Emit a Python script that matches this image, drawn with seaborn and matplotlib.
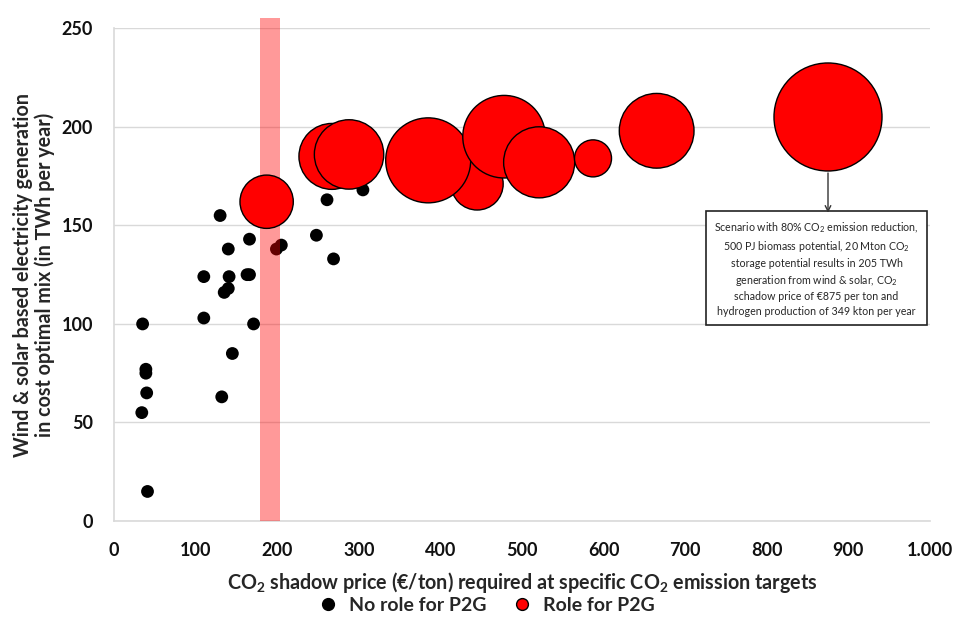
import numpy as np
import pandas as pd
import matplotlib
matplotlib.use("Agg")
import matplotlib.pyplot as plt
import seaborn as sns
from matplotlib.lines import Line2D

# scenarios without a role for P2G (CO2 price in EUR/ton, wind & solar in TWh)
no_p2g_price = [35, 39, 39, 40, 34, 41, 130, 140, 110, 141, 140, 135, 166, 163, 166,
                110, 171, 145, 132, 199, 205, 248, 269, 261, 305]
no_p2g_twh = [100, 77, 75, 65, 55, 15, 155, 138, 124, 124, 118, 116, 143, 125, 125,
              103, 100, 85, 63, 138, 140, 145, 133, 163, 168]

# scenarios with a role for P2G (bubble area = hydrogen production, kton per year)
p2g_price = [187, 267, 288, 445, 385, 478, 521, 587, 665, 875]
p2g_twh = [162, 185, 186, 171, 183, 195, 182, 184, 198, 205]
p2g_h2 = [85, 130, 144, 81, 216, 204, 151, 41, 167, 349]

x_ticks = [0, 100, 200, 300, 400, 500, 600, 700, 800, 900, 1000]
x_ticklabels = ["0", "100", "200", "300", "400", "500", "600", "700", "800", "900", "1.000"]
y_ticks = [0, 50, 100, 150, 200, 250]

band_lo, band_hi = 179, 203

df_no = pd.DataFrame({"price": no_p2g_price, "twh": no_p2g_twh})
df_yes = pd.DataFrame({"price": p2g_price, "twh": p2g_twh, "h2": p2g_h2})

sns.set_style("white")
plt.rcParams["font.family"] = ["Lato", "DejaVu Sans"]
plt.rcParams["mathtext.fontset"] = "custom"
plt.rcParams["mathtext.rm"] = "Lato"
plt.rcParams["mathtext.bf"] = "Lato:bold"

fig, ax = plt.subplots(figsize=(9.56, 6.33), dpi=100)
fig.subplots_adjust(left=0.1193, right=0.9728, bottom=0.1769, top=0.9553)

grey = "#d9d9d9"

sns.scatterplot(data=df_no, x="price", y="twh", ax=ax, color="black", s=85,
                edgecolor="none", legend=False, zorder=3)

ax.axvspan(band_lo, band_hi, ymin=0, ymax=1.02, color="#ff0000", alpha=0.4,
           lw=0, zorder=4, clip_on=False)

sns.scatterplot(data=df_yes, x="price", y="twh", size="h2", sizes=(0, 6050),
                size_norm=(0, 349), ax=ax, color="#ff0000", edgecolor="black",
                linewidth=1, legend=False, zorder=5)

ax.set_xlim(0, 1000)
ax.set_ylim(0, 250)
ax.set_xticks(x_ticks)
ax.set_xticklabels(x_ticklabels)
ax.set_yticks(y_ticks)
ax.yaxis.grid(True, color=grey, lw=1)
ax.xaxis.grid(False)
ax.set_axisbelow(True)

for s in ["top", "right"]:
    ax.spines[s].set_visible(False)
for s in ["left", "bottom"]:
    ax.spines[s].set_color(grey)
    ax.spines[s].set_linewidth(1.2)

ax.tick_params(axis="both", which="major", direction="out", length=5, width=1,
               color=grey, labelsize=13, labelcolor="#111111")
ax.tick_params(axis="x", pad=10)
ax.tick_params(axis="y", pad=10)
for lab in ax.get_xticklabels() + ax.get_yticklabels():
    lab.set_fontweight("bold")

ax.set_xlabel(r"CO$_\mathbf{2}$ shadow price (€/ton) required at specific CO$_\mathbf{2}$ emission targets",
              fontsize=14.2, fontweight="bold", labelpad=8)
ax.set_ylabel("Wind & solar based electricity generation\nin cost optimal mix (in TWh per year)",
              fontsize=14.2, fontweight="bold", labelpad=5, linespacing=1.05)

note = ("Scenario with 80% CO$_2$ emission reduction,\n"
        "500 PJ biomass potential, 20 Mton CO$_2$\n"
        "storage potential results in 205 TWh\n"
        "generation from wind & solar, CO$_2$\n"
        "schadow price of €875 per ton and\n"
        "hydrogen production of 349 kton per year")
ax.text(861, 128, note, ha="center", va="center", fontsize=7.7, linespacing=1.38,
        zorder=6, bbox=dict(boxstyle="square,pad=0.75", fc="white", ec="#222222", lw=1.2))
ax.annotate("", xy=(875, 155), xytext=(875, 178),
            arrowprops=dict(arrowstyle="->", color="#333333", lw=1), zorder=6)

handles = [
    Line2D([], [], marker="o", ls="", color="black", markersize=8.5, label="No role for P2G"),
    Line2D([], [], marker="o", ls="", markerfacecolor="#ff0000", markeredgecolor="black",
           markersize=8.5, label="Role for P2G"),
]
fig.legend(handles=handles, loc="center", bbox_to_anchor=(0.504, 0.043), ncol=2,
           frameon=False, handletextpad=0.1, columnspacing=0.8,
           prop={"size": 14, "weight": "bold"})

fig.savefig("out.png", dpi=100)
